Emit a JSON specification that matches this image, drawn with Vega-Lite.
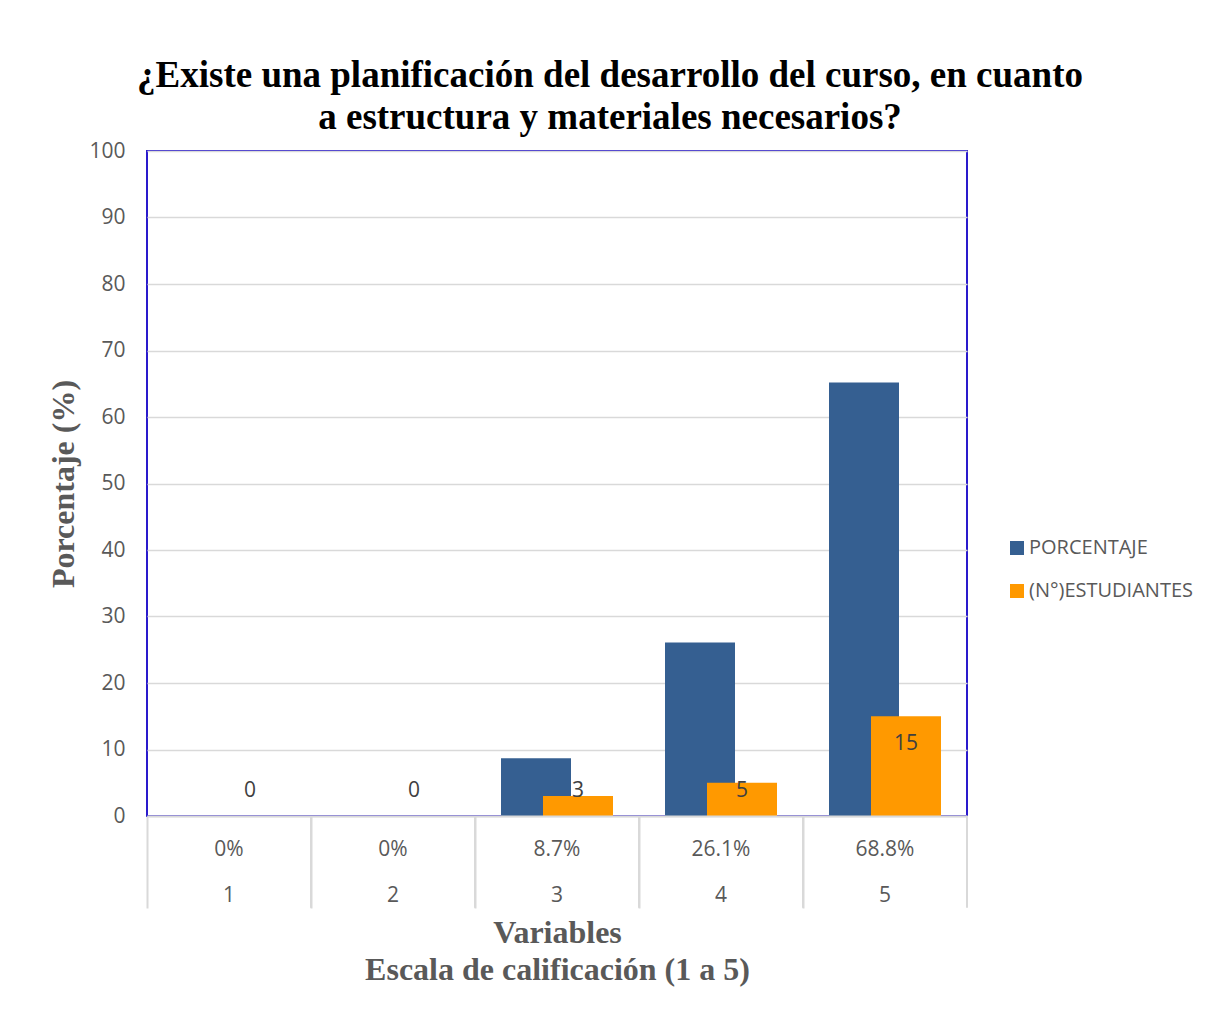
{
  "$schema": "https://vega.github.io/schema/vega-lite/v6.json",
  "width": 820,
  "height": 665,
  "autosize": {"type": "none"},
  "padding": {"left": 147, "top": 151, "right": 247, "bottom": 197},
  "background": "white",
  "title": {
    "text": ["¿Existe una planificación del desarrollo del curso, en cuanto", "a estructura y materiales necesarios?"],
    "font": "Liberation Serif",
    "fontSize": 37,
    "fontWeight": "bold",
    "color": "#000000",
    "lineHeight": 42,
    "anchor": "middle",
    "frame": "group",
    "dx": 53,
    "offset": 3
  },
  "data": {
    "values": [
      {"cat": "0%|1", "pct": 0, "n": 0},
      {"cat": "0%|2", "pct": 0, "n": 0},
      {"cat": "8.7%|3", "pct": 8.7, "n": 3},
      {"cat": "26.1%|4", "pct": 26.1, "n": 5},
      {"cat": "68.8%|5", "pct": 65.2, "n": 15}
    ]
  },
  "encoding": {
    "x": {
      "field": "cat",
      "type": "nominal",
      "sort": null,
      "scale": {"paddingInner": 0, "paddingOuter": 0},
      "axis": {
        "title": ["Variables", "Escala de calificación (1 a 5)"],
        "titleFont": "Liberation Serif",
        "titleFontSize": 32,
        "titleFontWeight": "bold",
        "titleColor": "#595959",
        "titleLineHeight": 37,
        "titlePadding": 8,
        "labelExpr": "split(datum.value, '|')",
        "labelAngle": 0,
        "labelFont": "Open Sans",
        "labelFontSize": 21,
        "labelColor": "#595959",
        "labelLineHeight": 46,
        "labelPadding": -70,
        "labelBaseline": "top",
        "ticks": true,
        "bandPosition": 0,
        "tickSize": 92,
        "tickColor": "#d9d9d9",
        "tickWidth": 2,
        "domainColor": "#d9d9d9",
        "domainWidth": 2,
        "zindex": 1
      }
    }
  },
  "layer": [
    {
      "mark": {"type": "bar", "width": 70, "xOffset": -21, "color": "#355F91"},
      "encoding": {
        "y": {
          "field": "pct",
          "type": "quantitative",
          "scale": {"domain": [0, 100]},
          "axis": {
            "title": "Porcentaje (%)",
            "titleFont": "Liberation Serif",
            "titleFontSize": 32,
            "titleFontWeight": "bold",
            "titleColor": "#595959",
            "titlePadding": 8,
            "values": [0, 10, 20, 30, 40, 50, 60, 70, 80, 90, 100],
            "labelFont": "Open Sans",
            "labelFontSize": 21,
            "labelColor": "#595959",
            "labelPadding": 22,
            "ticks": false,
            "domain": false,
            "grid": true,
            "gridColor": "#d9d9d9",
            "gridWidth": 1.5
          }
        },
        "color": {
          "datum": "PORCENTAJE",
          "scale": {"domain": ["PORCENTAJE", "(N°)ESTUDIANTES"], "range": ["#355F91", "#FF9900"]},
          "legend": {
            "title": null,
            "orient": "none",
            "legendX": 860,
            "legendY": 387,
            "symbolType": "square",
            "symbolSize": 196,
            "symbolStrokeWidth": 0,
            "labelFont": "Open Sans",
            "labelFontSize": 20,
            "labelLimit": 400,
            "labelColor": "#595959",
            "rowPadding": 23,
            "labelOffset": 2
          }
        }
      }
    },
    {
      "mark": {"type": "bar", "width": 70, "xOffset": 21, "color": "#FF9900"},
      "encoding": {
        "y": {"field": "n", "type": "quantitative"},
        "color": {"datum": "(N°)ESTUDIANTES"}
      }
    },
    {
      "transform": [{"calculate": "max(datum.n - 4.2, 3.8)", "as": "lab_y"}],
      "mark": {"type": "text", "dx": 21, "font": "Open Sans", "fontSize": 21, "color": "#404040", "baseline": "middle"},
      "encoding": {
        "y": {"field": "lab_y", "type": "quantitative"},
        "text": {"field": "n", "type": "quantitative"}
      }
    },
    {
      "mark": {"type": "rule", "color": "#d9d9d9", "strokeWidth": 2},
      "encoding": {
        "x": {"field": "cat", "type": "nominal", "sort": null, "bandPosition": 1},
        "y": {"datum": 0},
        "y2": {"datum": -13.8}
      }
    }
  ],
  "config": {
    "view": {"stroke": "#2a1acc", "strokeWidth": 2}
  }
}
